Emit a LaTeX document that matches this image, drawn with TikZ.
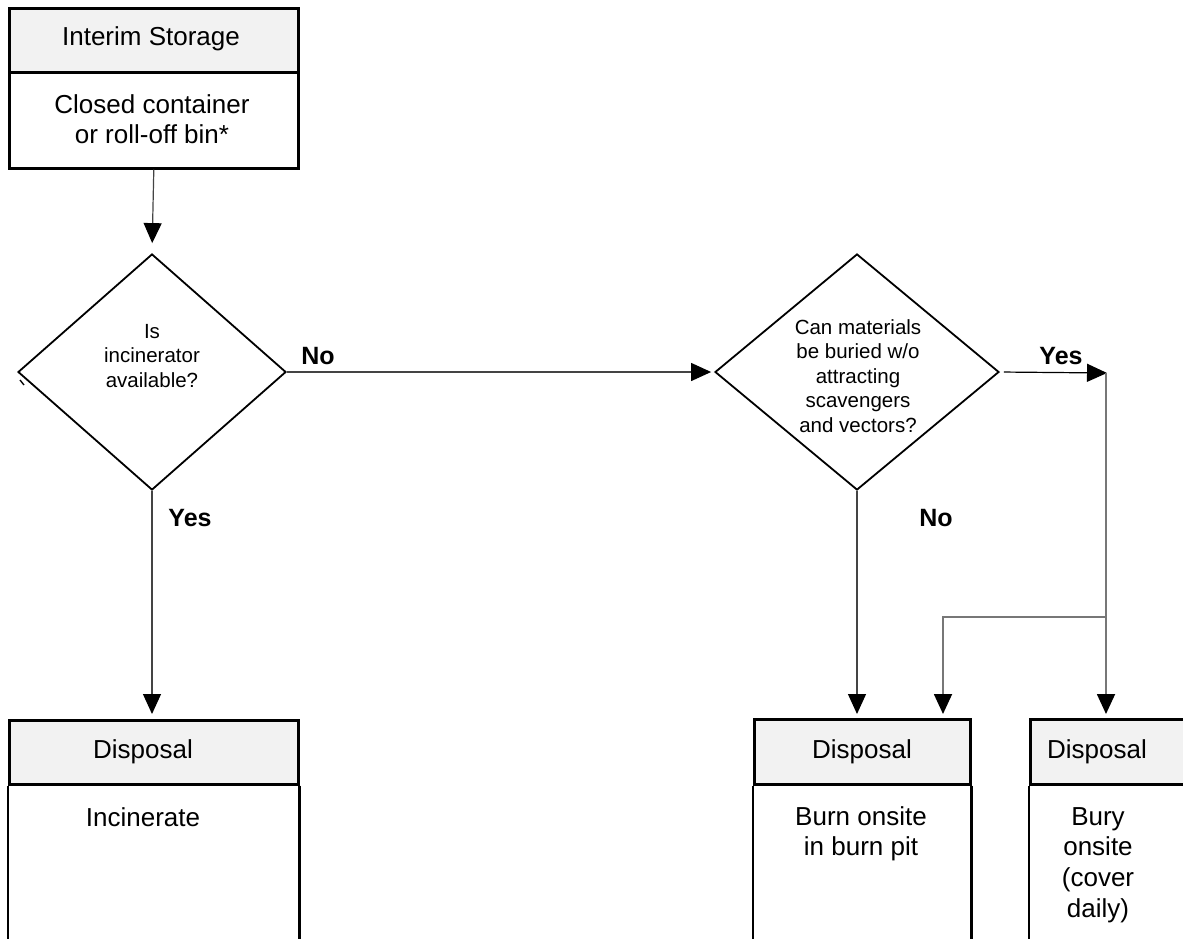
\documentclass[tikz,border=0pt]{standalone}
\usepackage{fontspec}
\setmainfont{Liberation Sans}
\usetikzlibrary{shapes.geometric,arrows.meta}
\definecolor{headgray}{HTML}{F2F2F2}
\definecolor{linkgray}{HTML}{444444}
\definecolor{branchgray}{HTML}{777777}
\begin{document}
\begin{tikzpicture}[x=1pt,y=-1pt,
  boxtext/.style={font=\fontsize{26}{30}\selectfont,align=center,inner sep=0pt},
  asktext/.style={font=\fontsize{20.5}{24.6}\selectfont,align=center,inner sep=0pt},
  answer/.style={font=\fontsize{25}{30}\selectfont\bfseries,inner sep=0pt},
  headbox/.style={draw,line width=2.6pt,fill=headgray,inner sep=0pt,anchor=north west},
  bodybox/.style={draw,line width=2.6pt,fill=white,inner sep=0pt,anchor=north west},
  question/.style={draw,line width=1.8pt,shape=diamond,inner sep=0pt},
  tip/.style={-{Triangle[length=20pt,width=18pt,color=black]}},
  link/.style={draw=linkgray,line width=1.2pt,tip},
  branch/.style={draw=branchgray,line width=1.8pt},
  branchlink/.style={branch,tip},
]
\clip (0,0) rectangle (1183,939);
\fill[white] (0,0) rectangle (1183,939);

% interim storage
\node[headbox,minimum width=289pt,minimum height=64pt] (storeHead) at (8,7) {};
\node[bodybox,minimum width=289pt,minimum height=96pt] (storeBody) at (8,71) {};
\node[boxtext] at (151,39) {Interim Storage};
\node[boxtext] at (152,119) {Closed container\\ or roll-off bin*};

% decisions (question text of the second one is cut off at its lower edge)
\begin{scope}
  \clip (760,300) rectangle (960,433);
  \node[asktext] at (858,376) {Can materials\\ be buried w/o\\ attracting\\ scavengers\\ and vectors?};
\end{scope}
\node[question,minimum width=284pt,minimum height=236pt] (askBury) at (857,372) {};

\node[question,minimum width=268pt,minimum height=236pt] (askInc) at (152,372) {};
\node[asktext] at (152,356) {Is\\ incinerator\\ available?};
\draw[line width=1.4pt] (20,380) -- (24,385);

% disposal: incinerate
\node[headbox,minimum width=289pt,minimum height=64pt] (incHead) at (8,719) {};
\draw[line width=2.6pt] (incHead.south west) -- ++(0,170) (incHead.south east) -- ++(0,170);
\node[boxtext] at (143,752) {Disposal};
\node[boxtext] at (143,817) {Incinerate};

% disposal: burn pit
\node[headbox,minimum width=216pt,minimum height=65pt] (burnHead) at (753,718) {};
\draw[line width=2.6pt] (burnHead.south west) -- ++(0,170) (burnHead.south east) -- ++(0,170);
\node[boxtext] at (862,752) {Disposal};
\node[boxtext] at (861,834) {Burn onsite\\ in burn pit};

% disposal: bury
\node[headbox,minimum width=200pt,minimum height=65pt] (buryHead) at (1029,718) {};
\draw[line width=2.6pt] (buryHead.south west) -- ++(0,170);
\node[boxtext] at (1097,752) {Disposal};
\node[boxtext,font=\fontsize{26}{30.8}\selectfont] at (1098,865) {Bury\\ onsite\\ (cover\\ daily)};

% connectors
\draw[link,shorten >=10pt] (storeBody.south) -- (askInc.north);
\draw[link,shorten >=3pt] (askInc.east) -- (askBury.west);
\node[answer] at (318,356) {No};
\draw[link,shorten >=5pt] (askInc.south) -- (askInc.south |- incHead.north);
\node[answer] at (190,518) {Yes};
\draw[link,shorten >=4pt] (askBury.south) -- (askBury.south |- burnHead.north);
\node[answer] at (936,518) {No};

\coordinate (yesEnd) at (1107,373);
\coordinate (split) at (1106,617);
\draw[link,draw=black,shorten <=4pt] (askBury.east) -- (yesEnd);
\node[answer] at (1061,356) {Yes};
\draw[branchlink,shorten >=4pt] (yesEnd -| split) -- (split |- buryHead.north);
\draw[branchlink,shorten >=4pt] (split) -| (943,718);
\end{tikzpicture}
\end{document}
